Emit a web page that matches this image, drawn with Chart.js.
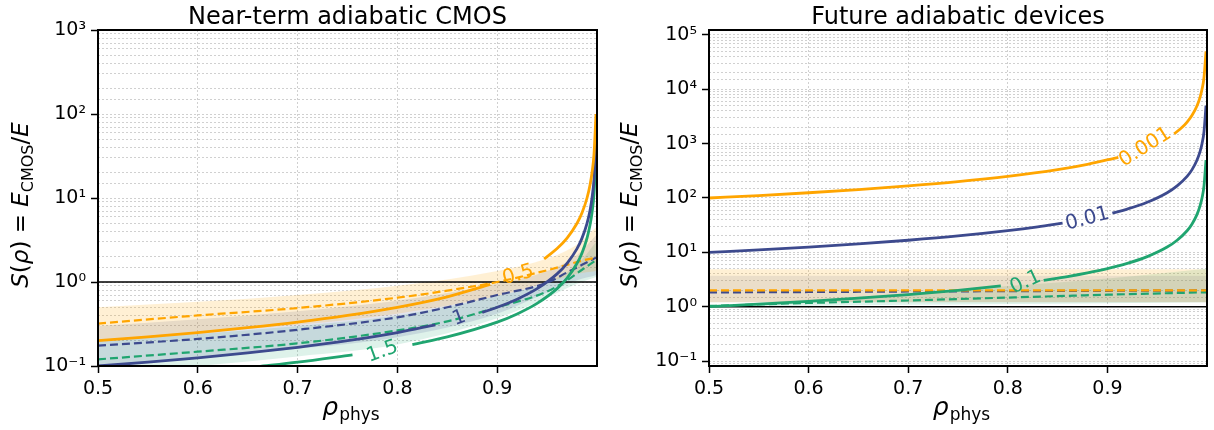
<!DOCTYPE html>
<html>
<head>
<meta charset="utf-8">
<script src="https://cdn.jsdelivr.net/npm/chart.js@4.4.0/dist/chart.umd.min.js"></script>
<style>
  body { margin: 0; background: #fff; }
  #wrap { position: relative; width: 1214px; height: 430px; }
  canvas { position: absolute; top: 0; }
</style>
</head>
<body>
<div id="wrap">
  <canvas id="nearTerm" width="607" height="430" style="left:0"></canvas>
  <canvas id="future" width="607" height="430" style="left:607px"></canvas>
</div>
<script>
const ORANGE = '#FFA500', NAVY = '#3D4A8E', GREEN = '#20A570';

// tick labels
const xTickValues = [0.5, 0.6, 0.7, 0.8, 0.9];
const xTickLabels = ['0.5', '0.6', '0.7', '0.8', '0.9'];
const nearYTickValues = [0.1, 1, 10, 100, 1000];
const nearYTickLabels = ['10⁻¹', '10⁰', '10¹', '10²', '10³'];
const futYTickValues = [0.1, 1, 10, 100, 1000, 10000, 100000];
const futYTickLabels = ['10⁻¹', '10⁰', '10¹', '10²', '10³', '10⁴', '10⁵'];

const unityRho = [0.5, 1.0];
const unityS = [1, 1];

// ---- Near-term adiabatic CMOS ----
// solid curves (null = gap where the contour label sits)
const nearOrangeRho = [0.5, 0.55, 0.6, 0.65, 0.7, 0.75, 0.8, 0.85, 0.893, 0.92, 0.947, 0.96, 0.97, 0.98, 0.985, 0.99, 0.993, 0.995, 0.997, 0.999];
const nearOrangeS = [0.2, 0.222, 0.25, 0.286, 0.333, 0.4, 0.5, 0.667, 0.935, null, 1.89, 2.5, 3.33, 5, 6.67, 10, 14.3, 20, 33, 100];
const nearNavyRho = [0.5, 0.55, 0.6, 0.65, 0.7, 0.75, 0.8, 0.838, 0.86, 0.885, 0.9, 0.92, 0.94, 0.96, 0.97, 0.98, 0.985, 0.99, 0.993, 0.995, 0.997, 0.999];
const nearNavyS = [0.1, 0.111, 0.125, 0.143, 0.167, 0.2, 0.25, 0.309, null, 0.435, 0.5, 0.625, 0.833, 1.25, 1.67, 2.5, 3.33, 5, 7.1, 10, 16.7, 50];
const nearGreenRho = [0.66, 0.7, 0.755, 0.785, 0.815, 0.85, 0.9, 0.92, 0.94, 0.96, 0.97, 0.98, 0.985, 0.99, 0.993, 0.995, 0.997, 0.999];
const nearGreenS = [0.098, 0.111, 0.136, null, 0.18, 0.222, 0.333, 0.417, 0.556, 0.833, 1.11, 1.67, 2.22, 3.33, 4.76, 6.67, 11.1, 33];
// dashed curves
const nearDashRho = [0.5, 0.6, 0.7, 0.8, 0.85, 0.9, 0.95, 0.97, 0.985, 0.999];
const nearOrangeDash = [0.32, 0.40, 0.49, 0.65, 0.79, 1.0, 1.38, 1.6, 1.8, 1.95];
const nearNavyDash = [0.175, 0.21, 0.27, 0.38, 0.5, 0.7, 0.98, 1.3, 1.6, 1.95];
const nearGreenDash = [0.12, 0.148, 0.186, 0.265, 0.34, 0.5, 0.77, 1.05, 1.4, 1.82];
// shaded bands
const nearBandRho = [0.5, 0.6, 0.7, 0.8, 0.9, 0.95, 0.98, 0.999];
const nearOrangeLo = [0.2, 0.25, 0.31, 0.42, 0.68, 0.98, 1.25, 1.35];
const nearOrangeHi = [0.5, 0.58, 0.7, 0.9, 1.35, 1.9, 2.8, 4.5];
const nearNavyLo = [0.1, 0.125, 0.16, 0.22, 0.42, 0.75, 1.05, 1.2];
const nearNavyHi = [0.3, 0.36, 0.45, 0.6, 0.95, 1.35, 2.1, 3.6];
const nearGreenLo = [0.08, 0.1, 0.13, 0.18, 0.37, 0.65, 0.95, 1.15];
const nearGreenHi = [0.2, 0.24, 0.3, 0.4, 0.68, 1.0, 1.6, 3.0];
// contour labels
const nearLabelText = ['0.5', '1', '1.5'];
const nearLabelRho = [0.921, 0.862, 0.785];
const nearLabelS = [1.21, 0.37, 0.148];
const nearLabelAngle = [-15, -20, -20];

// ---- Future adiabatic devices ----
const futOrangeRho = [0.5, 0.55, 0.6, 0.65, 0.7, 0.75, 0.8, 0.85, 0.88, 0.911, 0.94, 0.967, 0.975, 0.98, 0.985, 0.99, 0.993, 0.995, 0.997, 0.999];
const futOrangeS = [100, 111, 125, 143, 167, 200, 250, 333, 417, 562, null, 1515, 2000, 2500, 3333, 5000, 7143, 10000, 16667, 50000];
const futNavyRho = [0.5, 0.55, 0.6, 0.65, 0.7, 0.75, 0.8, 0.83, 0.855, 0.88, 0.905, 0.92, 0.94, 0.96, 0.97, 0.98, 0.985, 0.99, 0.993, 0.995, 0.997, 0.999];
const futNavyS = [10, 11.1, 12.5, 14.3, 16.7, 20, 25, 29.4, 34.5, null, 52.6, 62.5, 83.3, 125, 167, 250, 333, 500, 714, 1000, 1667, 5000];
const futGreenRho = [0.5, 0.55, 0.6, 0.65, 0.7, 0.75, 0.793, 0.815, 0.836, 0.86, 0.88, 0.9, 0.92, 0.94, 0.96, 0.97, 0.98, 0.985, 0.99, 0.993, 0.995, 0.997, 0.999];
const futGreenS = [1, 1.11, 1.25, 1.43, 1.67, 2, 2.41, null, 3.05, 3.57, 4.17, 5, 6.25, 8.33, 12.5, 16.7, 25, 33.3, 50, 71.4, 100, 167, 500];
const futDashRho = [0.5, 0.6, 0.7, 0.8, 0.9, 0.999];
const futOrangeDash = [2.0, 2.0, 2.0, 2.0, 2.0, 2.0];
const futNavyDash = [1.83, 1.86, 1.9, 1.93, 1.96, 1.99];
const futGreenDash = [1.03, 1.17, 1.3, 1.47, 1.66, 1.84];
const futBandRho = [0.5, 0.6, 0.7, 0.8, 0.9, 0.999];
const futOrangeLo = [1.2, 1.2, 1.2, 1.2, 1.2, 1.2];
const futOrangeHi = [4.9, 4.9, 4.9, 4.9, 4.9, 4.9];
const futNavyLo = [1.2, 1.2, 1.2, 1.2, 1.2, 1.2];
const futNavyHi = [3.7, 3.7, 3.7, 3.7, 3.7, 3.7];
const futGreenLo = [1.0, 1.04, 1.08, 1.12, 1.16, 1.2];
const futGreenHi = [1.06, 1.35, 1.75, 2.4, 3.3, 5.0];
const futLabelText = ['0.001', '0.01', '0.1'];
const futLabelRho = [0.938, 0.88, 0.818];
const futLabelS = [855, 41, 2.8];
const futLabelAngle = [-32, -15, -25];

const labelColors = [ORANGE, NAVY, GREEN];
const FONT = '"DejaVu Sans", sans-serif';

function pts(xs, ys) {
  return xs.map((x, i) => ({ x: x, y: ys[i] }));
}

function solid(xs, ys, color) {
  return { data: pts(xs, ys), borderColor: color, borderWidth: 2.8, pointRadius: 0,
    fill: false, spanGaps: false, cubicInterpolationMode: 'monotone' };
}

function dashed(xs, ys, color) {
  return { data: pts(xs, ys), borderColor: color, borderWidth: 2.2, borderDash: [8, 4],
    pointRadius: 0, fill: false, cubicInterpolationMode: 'monotone' };
}

function band(xs, lo, hi, color) {
  return [
    { data: pts(xs, lo), borderWidth: 0, pointRadius: 0, fill: false, cubicInterpolationMode: 'monotone' },
    { data: pts(xs, hi), borderWidth: 0, pointRadius: 0, fill: '-1', backgroundColor: color, cubicInterpolationMode: 'monotone' }
  ];
}

function findLabel(values, labels, v) {
  for (let i = 0; i < values.length; i++) {
    if (Math.abs(values[i] - v) / values[i] < 1e-6) return labels[i];
  }
  return '';
}

function drawYTitle(ctx, cx, cy) {
  // S(ρ) = E_CMOS / E, rotated
  const parts = [
    ['S', 'italic 23px ' + FONT, 0],
    ['(', '23px ' + FONT, 0],
    ['ρ', 'italic 23px ' + FONT, 0],
    [')', '23px ' + FONT, 0],
    [' = ', '23px ' + FONT, 0],
    ['E', 'italic 23px ' + FONT, 0],
    ['CMOS', '16px ' + FONT, 5],
    ['/', '23px ' + FONT, 0],
    ['E', 'italic 23px ' + FONT, 0]
  ];
  let total = 0;
  parts.forEach(p => { ctx.font = p[1]; total += ctx.measureText(p[0]).width; });
  ctx.save();
  ctx.translate(cx, cy);
  ctx.rotate(-Math.PI / 2);
  ctx.fillStyle = '#000';
  ctx.textAlign = 'left';
  ctx.textBaseline = 'alphabetic';
  let pos = -total / 2;
  parts.forEach(p => {
    ctx.font = p[1];
    ctx.fillText(p[0], pos, p[2]);
    pos += ctx.measureText(p[0]).width;
  });
  ctx.restore();
}

function drawXTitle(ctx, cx, baseY) {
  ctx.save();
  ctx.fillStyle = '#000';
  ctx.textAlign = 'left';
  ctx.textBaseline = 'alphabetic';
  ctx.font = 'italic 25px ' + FONT;
  const w1 = ctx.measureText('ρ').width;
  ctx.font = '17px ' + FONT;
  const w2 = ctx.measureText('phys').width;
  const start = cx - (w1 + w2) / 2;
  ctx.font = 'italic 25px ' + FONT;
  ctx.fillText('ρ', start, baseY);
  ctx.font = '17px ' + FONT;
  ctx.fillText('phys', start + w1 + 1, baseY + 5);
  ctx.restore();
}

function decor(title, texts, rhos, svals, angles, yTitleX) {
  return {
    id: 'decor',
    afterDraw(chart) {
      const { ctx, chartArea: a, scales: { x, y } } = chart;
      ctx.save();
      ctx.beginPath();
      ctx.rect(a.left, a.top, a.right - a.left, a.bottom - a.top);
      ctx.clip();
      texts.forEach((t, i) => {
        ctx.save();
        ctx.translate(x.getPixelForValue(rhos[i]), y.getPixelForValue(svals[i]));
        ctx.rotate(angles[i] * Math.PI / 180);
        ctx.fillStyle = labelColors[i];
        ctx.font = '20px ' + FONT;
        ctx.textAlign = 'center';
        ctx.textBaseline = 'middle';
        ctx.fillText(t, 0, 0);
        ctx.restore();
      });
      ctx.restore();

      ctx.save();
      ctx.strokeStyle = '#000';
      ctx.lineWidth = 2;
      ctx.strokeRect(a.left, a.top, a.right - a.left, a.bottom - a.top);
      ctx.fillStyle = '#000';
      ctx.font = '24px ' + FONT;
      ctx.textAlign = 'center';
      ctx.textBaseline = 'alphabetic';
      ctx.fillText(title, (a.left + a.right) / 2, 24);
      ctx.restore();

      drawXTitle(ctx, (a.left + a.right) / 2 + 3, 415);
      drawYTitle(ctx, yTitleX, (a.top + a.bottom) / 2 + 7);
    }
  };
}

function isTickDecade(v) {
  const e = Math.log10(v);
  return Math.abs(e - Math.round(e)) < 1e-6;
}

function makeChart(id, datasets, yMin, yMax, yVals, yLabels, yWidth, padRight, plugin) {
  const gridColor = '#c4c4c4';
  return new Chart(document.getElementById(id), {
    type: 'line',
    data: { datasets: datasets },
    options: {
      responsive: false,
      animation: false,
      events: [],
      layout: { padding: { top: 30, right: padRight, left: 0, bottom: 0 } },
      plugins: { legend: { display: false }, tooltip: { enabled: false }, title: { display: false } },
      scales: {
        x: {
          type: 'linear', min: 0.5, max: 1.0,
          afterFit: s => { s.height = 64; },
          border: { display: false, dash: [2, 2] },
          grid: {
            color: c => (c.tick && c.tick.value > 0.95 ? 'rgba(0,0,0,0)' : gridColor),
            lineWidth: 0.8, tickLength: 7, tickWidth: 1.5,
            tickColor: c => (c.tick && c.tick.value > 0.95 ? 'rgba(0,0,0,0)' : '#000')
          },
          ticks: {
            stepSize: 0.1, autoSkip: false, maxRotation: 0, padding: 5,
            color: '#000', font: { size: 19, family: FONT },
            callback: v => findLabel(xTickValues, xTickLabels, v)
          }
        },
        y: {
          type: 'logarithmic', min: yMin, max: yMax,
          afterFit: s => { s.width = yWidth; },
          border: { display: false, dash: [2, 2] },
          grid: {
            color: gridColor, lineWidth: 0.8, tickLength: 7, tickWidth: 1.5,
            tickColor: c => (c.tick && isTickDecade(c.tick.value) ? '#000' : 'rgba(0,0,0,0)')
          },
          ticks: {
            autoSkip: false, padding: 5,
            color: '#000', font: { size: 19, family: FONT },
            callback: v => findLabel(yVals, yLabels, v)
          }
        }
      }
    },
    plugins: [plugin]
  });
}

function unity() {
  return { data: pts(unityRho, unityS), borderColor: '#000', borderWidth: 1.5, pointRadius: 0, fill: false };
}

// index 0 is drawn on top, so lines come first and bands last
const nearDatasets = [
  solid(nearOrangeRho, nearOrangeS, ORANGE),
  solid(nearNavyRho, nearNavyS, NAVY),
  solid(nearGreenRho, nearGreenS, GREEN),
  dashed(nearDashRho, nearOrangeDash, ORANGE),
  dashed(nearDashRho, nearNavyDash, NAVY),
  dashed(nearDashRho, nearGreenDash, GREEN),
  unity(),
  ...band(nearBandRho, nearOrangeLo, nearOrangeHi, 'rgba(255,165,0,0.17)'),
  ...band(nearBandRho, nearNavyLo, nearNavyHi, 'rgba(61,74,142,0.15)'),
  ...band(nearBandRho, nearGreenLo, nearGreenHi, 'rgba(32,165,112,0.15)')
];

const futDatasets = [
  solid(futOrangeRho, futOrangeS, ORANGE),
  solid(futNavyRho, futNavyS, NAVY),
  solid(futGreenRho, futGreenS, GREEN),
  dashed(futDashRho, futOrangeDash, ORANGE),
  dashed(futDashRho, futGreenDash, GREEN),
  dashed(futDashRho, futNavyDash, NAVY),
  unity(),
  ...band(futBandRho, futOrangeLo, futOrangeHi, 'rgba(255,165,0,0.17)'),
  ...band(futBandRho, futNavyLo, futNavyHi, 'rgba(61,74,142,0.12)'),
  ...band(futBandRho, futGreenLo, futGreenHi, 'rgba(32,165,112,0.15)')
];

makeChart('nearTerm', nearDatasets, 0.1, 1000, nearYTickValues, nearYTickLabels, 98, 10,
  decor('Near-term adiabatic CMOS', nearLabelText, nearLabelRho, nearLabelS, nearLabelAngle, 28));
makeChart('future', futDatasets, Math.pow(10, -1.092), Math.pow(10, 5.092), futYTickValues, futYTickLabels, 102, 7,
  decor('Future adiabatic devices', futLabelText, futLabelRho, futLabelS, futLabelAngle, 30));
</script>
</body>
</html>
